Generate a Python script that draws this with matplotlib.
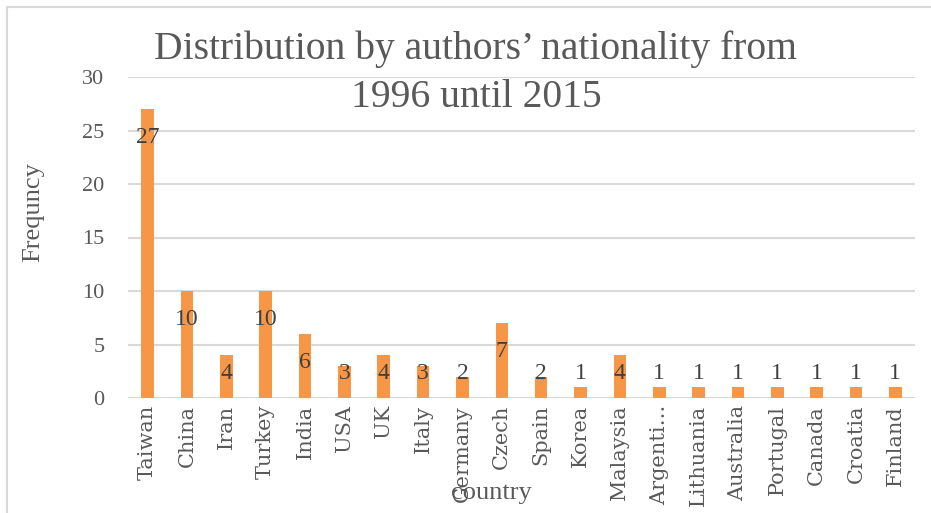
import matplotlib
matplotlib.use("Agg")
import matplotlib.pyplot as plt
from matplotlib.patches import Rectangle

countries = ["Taiwan", "China", "Iran", "Turkey", "India", "USA", "UK", "Italy",
             "Germany", "Czech", "Spain", "Korea", "Malaysia", "Argenti…",
             "Lithuania", "Australia", "Portugal", "Canada", "Croatia", "Finland"]
values = [27, 10, 4, 10, 6, 3, 4, 3, 2, 7, 2, 1, 4, 1, 1, 1, 1, 1, 1, 1]
yticks = [0, 5, 10, 15, 20, 25, 30]

W, H = 931, 513
fig = plt.figure(figsize=(W / 100, H / 100), dpi=100)
fig.patch.set_facecolor("white")

# chart frame
fig.patches.append(Rectangle((7 / W, -0.1), 1.2, 1 - 7 / H + 0.1,
                             transform=fig.transFigure, fill=False,
                             edgecolor="#D9D9D9", linewidth=1.5))

ax = fig.add_axes([128 / W, 1 - 398 / H, (915 - 128) / W, (398 - 77) / H])
x = list(range(len(countries)))
ax.bar(x, values, width=0.32, color="#F79646", zorder=3)
ax.set_xlim(-0.5, len(countries) - 0.5)
ax.set_ylim(0, 30)
ax.set_yticks(yticks)
ax.yaxis.grid(True, color="#D9D9D9", linewidth=1.5, zorder=0)
ax.set_axisbelow(True)
for s in ax.spines.values():
    s.set_visible(False)
ax.tick_params(axis="both", length=0)
ax.tick_params(axis="y", pad=17, labelsize=16, labelcolor="#595959")
ax.tick_params(axis="x", pad=5, labelcolor="#595959")
for lab in ax.get_yticklabels():
    lab.set_fontfamily("Liberation Serif")
ax.set_xticks(x)
ax.set_xticklabels(countries, rotation=90, fontsize=15, family="DejaVu Serif",
                   color="#595959")

for xi, v in zip(x, values):
    ax.text(xi, max(v - 2.7, 2.25), str(v), ha="center", va="center",
            fontsize=17, family="Liberation Serif", color="#404040", zorder=4)

fig.text(476 / W, 1 - 73 / H,
         "Distribution by authors’ nationality from\n1996 until 2015",
         ha="center", va="center", fontsize=28.5, family="Liberation Serif",
         color="#595959", linespacing=1.38)
fig.text(33 / W, 1 - 212 / H, "Frequncy", rotation=90, ha="center",
         va="center", fontsize=19, family="Liberation Serif", color="#595959")
fig.text(491 / W, 1 - 493 / H, "country", ha="center", va="center",
         fontsize=19, family="Liberation Serif", color="#595959")

fig.savefig("out.png", dpi=100)
